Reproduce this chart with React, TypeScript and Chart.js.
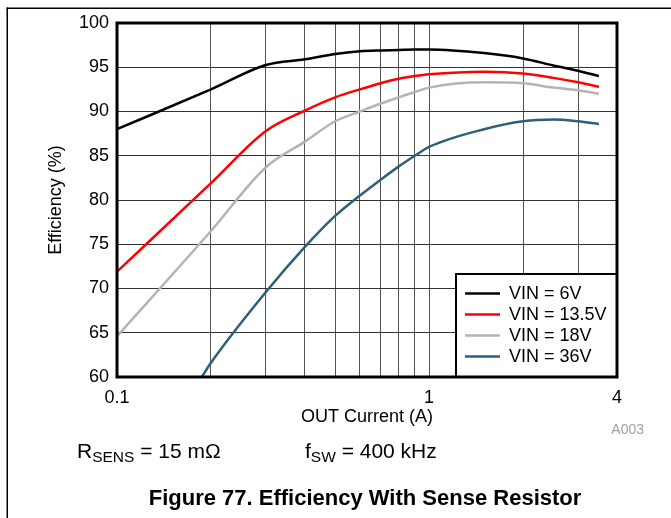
import React, { useEffect, useRef } from 'react';
import { Chart, registerables } from 'chart.js';

Chart.register(...registerables);

// ---- Data ----
const currentA = [0.1, 0.2, 0.3, 0.4, 0.5, 0.6, 0.7, 0.8, 0.9, 1, 1.5, 2, 2.5, 3, 3.5];
const vin6 = [88.0, 92.5, 95.25, 95.9, 96.5, 96.8, 96.9, 96.95, 97.0, 97.0, 96.6, 96.0, 95.2, 94.6, 94.0];
const vin13p5 = [71.9, 81.9, 87.8, 90.1, 91.6, 92.5, 93.2, 93.7, 94.0, 94.2, 94.5, 94.3, 93.8, 93.3, 92.8];
const vin18 = [64.6, 76.5, 83.7, 86.6, 88.9, 90.0, 90.9, 91.6, 92.2, 92.7, 93.3, 93.2, 92.7, 92.4, 92.0];
const vin36Current = [0.187, 0.2, 0.3, 0.4, 0.5, 0.6, 0.7, 0.8, 0.9, 1, 1.5, 2, 2.5, 3, 3.5];
const vin36 = [60.0, 61.6, 69.6, 74.7, 78.2, 80.5, 82.3, 83.8, 85.0, 86.0, 88.0, 88.9, 89.1, 88.9, 88.6];

const seriesLabels = ['VIN = 6V', 'VIN = 13.5V', 'VIN = 18V', 'VIN = 36V'];
const seriesColors = ['#000000', '#ff0000', '#b4b4b4', '#2d5f78'];

const xGridValues = [0.1, 0.2, 0.3, 0.4, 0.5, 0.6, 0.7, 0.8, 0.9, 1, 2, 3, 4];
const xLabelValues = [0.1, 1, 4];
const yMin = 60;
const yMax = 100;
const yStep = 5;

const xTitle = 'OUT Current (A)';
const yTitle = 'Efficiency (%)';
const figureCaption = 'Figure 77. Efficiency With Sense Resistor';
const figureId = 'A003';

const FONT = "'Liberation Sans', Arial, Helvetica, sans-serif";

const decorPlugin = {
  id: 'decor',
  afterDatasetsDraw(chart: any) {
    const { ctx, chartArea: a } = chart;
    ctx.save();
    // legend box
    const lw = 162;
    const lh = 104;
    const lx = a.right - lw;
    const ly = a.bottom - lh;
    ctx.fillStyle = '#ffffff';
    ctx.fillRect(lx, ly, lw, lh);
    ctx.strokeStyle = '#000';
    ctx.lineWidth = 2;
    ctx.strokeRect(lx + 1, ly + 1, lw - 1, lh - 1);
    ctx.font = `18px ${FONT}`;
    ctx.textBaseline = 'middle';
    ctx.textAlign = 'left';
    chart.data.datasets.forEach((ds: any, i: number) => {
      const cy = ly + 20.5 + i * 21;
      ctx.strokeStyle = ds.borderColor;
      ctx.lineWidth = 2.5;
      ctx.beginPath();
      ctx.moveTo(lx + 10, cy);
      ctx.lineTo(lx + 45, cy);
      ctx.stroke();
      ctx.fillStyle = '#000';
      ctx.fillText(ds.label, lx + 54, cy + 1);
    });
    // plot border
    ctx.strokeStyle = '#000';
    ctx.lineWidth = 3;
    ctx.strokeRect(a.left, a.top, a.right - a.left, a.bottom - a.top);
    ctx.restore();
  },
  afterDraw(chart: any) {
    const { ctx } = chart;
    ctx.save();
    // page frame lines
    ctx.fillStyle = '#000';
    ctx.fillRect(6.5, 7.5, 700, 1.5);
    ctx.fillRect(6.5, 7.5, 1.5, 600);
    // figure id
    ctx.fillStyle = '#a0a0a0';
    ctx.font = `14px ${FONT}`;
    ctx.textAlign = 'right';
    ctx.textBaseline = 'alphabetic';
    ctx.fillText(figureId, 644, 434);
    // conditions
    ctx.fillStyle = '#000';
    ctx.textAlign = 'left';
    const drawSub = (x: number, main: string, sub: string, rest: string) => {
      ctx.font = `21px ${FONT}`;
      ctx.fillText(main, x, 458);
      let cx = x + ctx.measureText(main).width;
      ctx.font = `15.5px ${FONT}`;
      ctx.fillText(sub, cx, 462);
      cx += ctx.measureText(sub).width;
      ctx.font = `21px ${FONT}`;
      ctx.fillText(rest, cx, 458);
    };
    drawSub(77, 'R', 'SENS', ' = 15 mΩ');
    drawSub(305, 'f', 'SW', ' = 400 kHz');
    // caption
    ctx.font = `bold 22px ${FONT}`;
    ctx.textAlign = 'center';
    ctx.fillText(figureCaption, 365, 505);
    ctx.restore();
  },
};

export default function App() {
  const ref = useRef<HTMLCanvasElement | null>(null);

  useEffect(() => {
    if (!ref.current) return;
    const mk = (xs: number[], ys: number[]) => xs.map((x, i) => ({ x, y: ys[i] }));
    const seriesX = [currentA, currentA, currentA, vin36Current];
    const seriesY = [vin6, vin13p5, vin18, vin36];
    const chart = new Chart(ref.current, {
      type: 'line',
      data: {
        datasets: seriesLabels.map((label, i) => ({
          label,
          data: mk(seriesX[i], seriesY[i]),
          borderColor: seriesColors[i],
          backgroundColor: seriesColors[i],
          borderWidth: 2.5,
          pointRadius: 0,
          cubicInterpolationMode: 'monotone' as const,
          fill: false,
        })),
      },
      options: {
        animation: false,
        responsive: false,
        maintainAspectRatio: false,
        layout: {
          autoPadding: false,
          padding: { left: 0, top: 23, right: 54, bottom: 90 },
        },
        plugins: {
          legend: { display: false },
          title: { display: false },
          tooltip: { enabled: false },
        },
        scales: {
          x: {
            type: 'logarithmic',
            min: 0.1,
            max: 4,
            afterBuildTicks: (scale: any) => {
              scale.ticks = xGridValues.map((v) => ({ value: v }));
            },
            afterFit: (scale: any) => {
              scale.height = 51;
            },
            border: { display: false },
            grid: { color: '#555', lineWidth: 1, drawTicks: false },
            ticks: {
              autoSkip: false,
              maxRotation: 0,
              padding: 10,
              color: '#000',
              font: { family: FONT, size: 18 },
              callback: (v: any) => {
                const n = Number(v);
                const hit = xLabelValues.find((l) => Math.abs(l - n) < 1e-9);
                return hit !== undefined ? String(hit) : '';
              },
            },
            title: {
              display: true,
              text: xTitle,
              color: '#000',
              font: { family: FONT, size: 18 },
              padding: 0,
            },
          },
          y: {
            type: 'linear',
            min: yMin,
            max: yMax,
            afterFit: (scale: any) => {
              scale.width = 117;
            },
            border: { display: false },
            grid: { color: '#333', lineWidth: 1, drawTicks: false },
            ticks: {
              stepSize: yStep,
              padding: 8,
              color: '#000',
              font: { family: FONT, size: 18 },
            },
            title: {
              display: true,
              text: yTitle,
              color: '#000',
              font: { family: FONT, size: 18 },
              padding: { top: 45, bottom: 0 },
            },
          },
        },
      } as any,
      plugins: [decorPlugin],
    });
    return () => chart.destroy();
  }, []);

  return (
    <div style={{ position: 'absolute', left: 0, top: 0, width: 671, height: 518, background: '#fff' }}>
      <canvas ref={ref} width={671} height={518} style={{ display: 'block', width: 671, height: 518 }} />
    </div>
  );
}
